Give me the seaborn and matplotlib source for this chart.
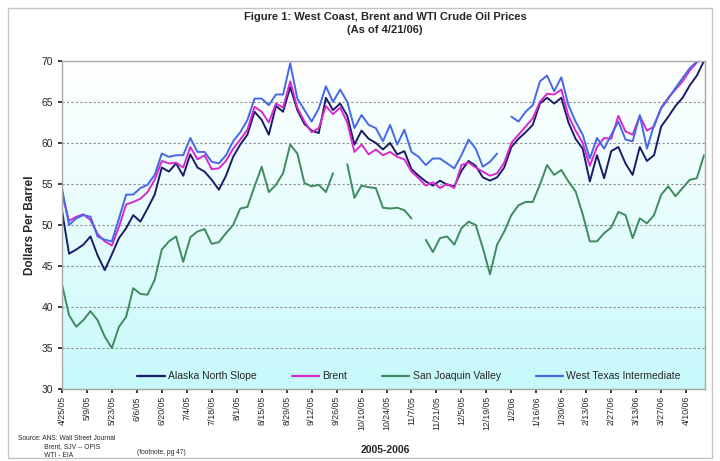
import numpy as np
import pandas as pd
import matplotlib
matplotlib.use("Agg")
import matplotlib.pyplot as plt
from matplotlib.colors import LinearSegmentedColormap
from matplotlib.lines import Line2D
from matplotlib.patches import Rectangle
import seaborn as sns

sns.set_theme(style="white")
plt.rcParams["font.family"] = ["Liberation Sans", "DejaVu Sans"]

dates = pd.date_range("2005-04-25", periods=91, freq="4D")
tick_dates = pd.date_range("2005-04-25", periods=26, freq="14D")
tick_labels = ["4/25/05", "5/9/05", "5/23/05", "6/6/05", "6/20/05", "7/4/05",
               "7/18/05", "8/1/05", "8/15/05", "8/29/05", "9/12/05", "9/26/05",
               "10/10/05", "10/24/05", "11/7/05", "11/21/05", "12/5/05",
               "12/19/05", "1/2/06", "1/16/06", "1/30/06", "2/13/06",
               "2/27/06", "3/13/06", "3/27/06", "4/10/06"]

nan = np.nan
ans = [51.8, 46.5, 47.0, 47.6, 48.6, 46.3, 44.5, 46.4, 48.4, 49.6,
       51.2, 50.4, 52.0, 53.7, 57.0, 56.5, 57.5, 56.0, 58.6, 57.0,
       56.5, 55.5, 54.3, 56.0, 58.3, 59.8, 61.0, 63.8, 62.8, 61.0,
       64.5, 63.8, 66.8, 64.0, 62.3, 61.5, 61.2, 65.5, 64.0, 64.8,
       63.3, 59.8, 61.5, 60.5, 60.0, 59.2, 60.0, 58.6, 59.0, 56.8,
       56.0, 55.3, 54.8, 55.4, 54.9, 54.7, 56.6, 57.8, 57.2, 55.8,
       55.4, 55.8, 57.0, 59.5, 60.5, 61.3, 62.2, 64.8, 65.5, 64.8,
       65.5, 62.5, 60.5, 59.3, 55.3, 58.5, 55.7, 59.0, 59.5, 57.5,
       56.1, 59.5, 57.8, 58.5, 62.0, 63.2, 64.5, 65.5, 67.0, 68.2,
       70.0]
brent = [53.8, 50.5, 51.0, 51.3, 50.6, 48.9, 48.0, 47.5, 49.8, 52.5,
         52.8, 53.2, 54.0, 55.5, 57.8, 57.5, 57.6, 57.0, 59.5, 58.0,
         58.5, 56.8, 56.9, 57.8, 59.3, 60.4, 61.6, 64.4, 63.8, 62.5,
         64.8, 64.3, 67.5, 64.3, 62.6, 61.3, 61.8, 64.5, 63.5, 64.3,
         62.5, 58.9, 59.8, 58.6, 59.2, 58.5, 58.9, 58.3, 58.0, 56.5,
         55.7, 54.8, 55.2, 54.5, 55.0, 54.5, 57.3, 57.6, 57.0, 56.5,
         56.0, 56.3, 57.6, 60.0, 61.0, 62.0, 63.0, 65.0, 66.0, 65.9,
         66.5, 63.3, 61.5, 60.0, 57.2, 59.5, 60.6, 60.5, 63.3, 61.4,
         61.0, 63.3, 61.5, 62.0, 64.3, 65.5, 66.5, 67.5, 68.8, 69.8,
         70.5]
sjv = [42.8, 39.0, 37.6, 38.4, 39.5, 38.4, 36.4, 35.0, 37.6, 38.8,
       42.3, 41.6, 41.5, 43.3, 47.0, 48.0, 48.6, 45.5, 48.5, 49.2,
       49.5, 47.7, 47.9, 49.0, 50.0, 52.0, 52.2, 54.7, 57.1, 54.0,
       54.9, 56.3, 59.8, 58.7, 55.1, 54.7, 54.9, 54.0, 56.3, nan,
       57.4, 53.3, 54.8, 54.6, 54.5, 52.1, 52.0, 52.1, 51.8, 50.8,
       nan, 48.2, 46.7, 48.4, 48.6, 47.6, 49.6, 50.4, 50.0, 47.2,
       44.0, 47.6, 49.2, 51.2, 52.4, 52.8, 52.8, 54.9, 57.3, 56.1,
       56.7, 55.3, 54.1, 51.3, 48.0, 48.0, 49.0, 49.7, 51.6, 51.2,
       48.4, 50.8, 50.2, 51.2, 53.7, 54.7, 53.5, 54.5, 55.5, 55.7,
       58.5]
wti = [54.5, 50.0, 50.8, 51.2, 51.0, 48.6, 48.2, 48.0, 50.8, 53.7,
       53.7, 54.5, 54.9, 56.1, 58.7, 58.3, 58.5, 58.5, 60.6, 58.9,
       58.9, 57.7, 57.5, 58.5, 60.2, 61.3, 62.8, 65.4, 65.4, 64.6,
       65.9, 65.9, 69.7, 65.4, 64.0, 62.6, 64.2, 66.9, 65.0, 66.5,
       65.0, 61.8, 63.4, 62.2, 61.8, 60.2, 62.2, 59.8, 61.6, 58.9,
       58.3, 57.3, 58.1, 58.1, 57.5, 56.9, 58.5, 60.4, 59.3, 57.1,
       57.7, 58.7, nan, 63.2, 62.6, 63.8, 64.6, 67.5, 68.2, 66.3,
       68.0, 64.6, 62.6, 61.0, 58.1, 60.6, 59.3, 61.0, 62.6, 60.4,
       60.2, 63.4, 59.3, 62.2, 64.2, 65.4, 66.7, 67.9, 69.1, 69.9,
       70.3]

series = [("Alaska North Slope", ans, "#1c1c66"),
          ("Brent", brent, "#d62ad0"),
          ("San Joaquin Valley", sjv, "#3f8b5e"),
          ("West Texas Intermediate", wti, "#4668e8")]


def plot_series(ax, values, color):
    # draw each run between missing values on its own so gaps stay open
    s = pd.Series(values, index=dates)
    runs = s.isna().cumsum()[s.notna()]
    for _, seg in s.dropna().groupby(runs):
        sns.lineplot(x=seg.index, y=seg.values, ax=ax, color=color,
                     linewidth=1.4, legend=False)


fig = plt.figure(figsize=(7.2, 4.61), dpi=100)
ax = fig.add_axes([0.086, 0.156, 0.893, 0.712])

# white-to-cyan fill of the plot area
grad = np.linspace(0, 1, 256).reshape(-1, 1)
cmap = LinearSegmentedColormap.from_list("bg", ["#c6f9fb", "#e6fdfd", "#ffffff"])
ax.imshow(grad, aspect="auto", cmap=cmap, origin="lower",
          extent=[0, 1, 0, 1], transform=ax.transAxes, zorder=0)

for name, values, color in series:
    plot_series(ax, values, color)

ax.set_xlim(dates[0], dates[-1] + pd.Timedelta(days=0.5))
ax.set_ylim(30, 70)
ax.set_yticks(range(30, 71, 5))
ax.set_xticks(tick_dates)
ax.set_xticklabels(tick_labels, rotation=90, fontsize=6.3)
ax.tick_params(axis="y", labelsize=7.5, length=3, direction="out", left=True)
ax.tick_params(axis="x", length=3, direction="out", bottom=True, pad=2)
ax.yaxis.grid(True, linestyle=(0, (2, 2)), color="#8c8c8c", linewidth=0.8)
ax.xaxis.grid(False)
ax.set_axisbelow(True)
for sp in ax.spines.values():
    sp.set_color("#a8a8a8")
    sp.set_linewidth(1.0)
ax.set_xlabel("")
ax.set_ylabel("Dollars Per Barrel", fontsize=8.5, fontweight="bold", labelpad=4)

handles = [Line2D([], [], color=c, linewidth=1.6) for _, _, c in series]
ax.legend(handles, [n for n, _, _ in series], loc="lower center",
          bbox_to_anchor=(0.54, -0.005), ncol=4, frameon=False, fontsize=7.5,
          handlelength=2.6, columnspacing=3.4, handletextpad=0.3)

fig.text(0.535, 0.963, "Figure 1: West Coast, Brent and WTI Crude Oil Prices",
         ha="center", va="center", fontsize=8, fontweight="bold")
fig.text(0.535, 0.935, "(As of 4/21/06)", ha="center", va="center",
         fontsize=8, fontweight="bold")
fig.text(0.535, 0.024, "2005-2006", ha="center", va="center",
         fontsize=7.5, fontweight="bold")
fig.text(0.025, 0.057, "Source: ANS: Wall Street Journal\n"
         "              Brent, SJV -- OPIS\n"
         "              WTI - EIA",
         ha="left", va="top", fontsize=4.8, linespacing=1.35)
fig.text(0.19, 0.019, "(footnote, pg 47)", ha="left", va="center", fontsize=4.8)

fig.patches.append(Rectangle((0.011, 0.006), 0.978, 0.977, transform=fig.transFigure,
                             fill=False, edgecolor="#c4c4c4", linewidth=1.0))

plt.savefig("out.png", dpi=100)
